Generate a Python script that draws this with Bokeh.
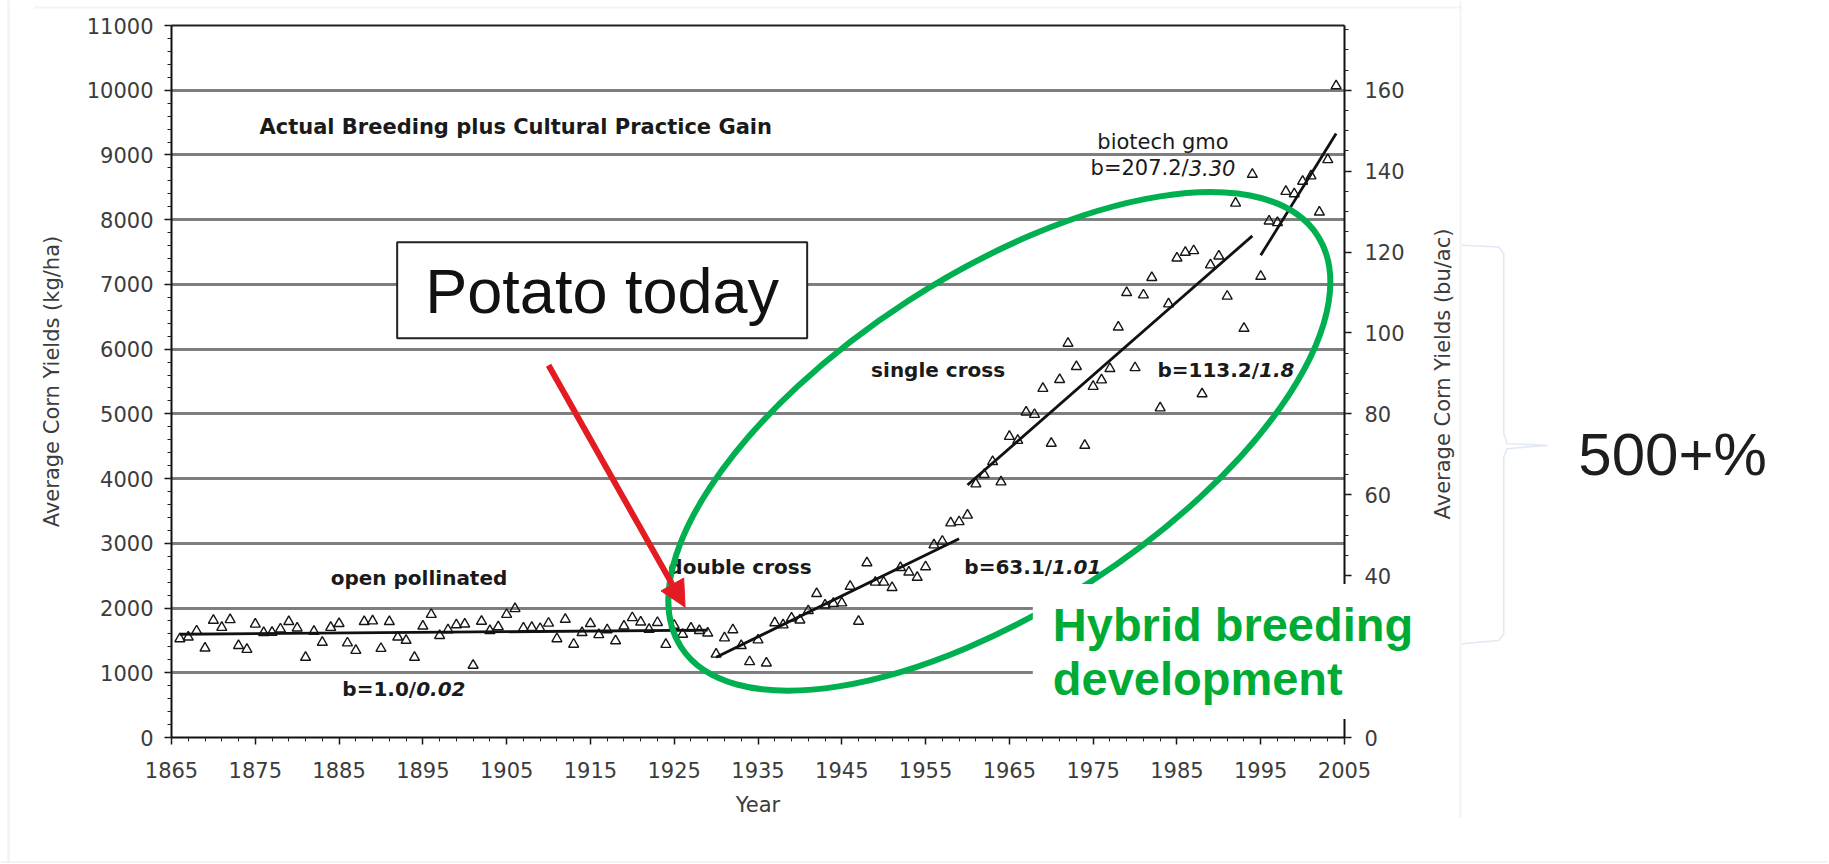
import math
from bokeh.plotting import figure
from bokeh.models import (Range1d, LinearAxis, FixedTicker, Label, Arrow, NormalHead,
                          PolyAnnotation, Grid)
from bokeh.core.properties import value
from bokeh.embed import file_html
from bokeh.resources import INLINE

# ---------------- data (kg/ha) ----------------
op_years = list(range(1866, 1930))
op_yield = [1525, 1550, 1645, 1380, 1810, 1700, 1820, 1420, 1360, 1750,
            1620, 1625, 1676, 1790, 1690, 1237, 1640, 1470, 1700, 1760,
            1460, 1345, 1790, 1800, 1375, 1790, 1550, 1500, 1237, 1720,
            1900, 1575, 1663, 1740, 1751, 1115, 1795, 1650, 1710, 1900,
            1990, 1690, 1700, 1682, 1765, 1525, 1825, 1440, 1620, 1760,
            1588, 1663, 1494, 1720, 1850, 1783, 1670, 1776, 1437, 1732,
            1594, 1689, 1651, 1613]
dc_years = list(range(1930, 1960))
dc_yield = [1287, 1538, 1663, 1419, 1170, 1506, 1150, 1770, 1739, 1845,
            1814, 1958, 2222, 2046, 2071, 2078, 2335, 1795, 2699, 2398,
            2398, 2316, 2624, 2555, 2473, 2636, 2975, 3032, 3314, 3333]
sc_years = list(range(1960, 1995))
sc_yield = [3434, 3917, 4061, 4262, 3948, 4651, 4589, 5028, 4990, 5392,
            4545, 5530, 6089, 5731, 4513, 5423, 5524, 5699, 6340, 6873,
            5712, 6836, 7106, 5091, 6698, 7407, 7495, 7520, 5310, 7300,
            7438, 6817, 8254, 6321, 8700]
bt_years = list(range(1995, 2005))
bt_yield = [7124, 7978, 7953, 8436, 8399, 8593, 8675, 8116, 8926, 10068]

# fitted trend segments
trend_years = [[1866, 1929], [1930, 1959], [1960, 1994], [1995, 2004]]
trend_vals = [[1595, 1658], [1240, 3070], [3900, 7750], [7450, 9330]]

x_ticks = list(range(1865, 2006, 10))
y_ticks = list(range(0, 11001, 1000))
grid_ticks = list(range(1000, 11000, 1000))
bu_ticks = list(range(0, 161, 20))
X0, X1 = 1865, 2005          # chart extent (years)
Y1 = 11000                   # chart top (kg/ha)
BU_PER = 62.5                # kg/ha per bu/ac on the right scale

# ---------------- figure (frame = whole canvas, axes at fixed locations) ----------------
W, H = 1828, 863
p = figure(width=W, height=H, output_backend="svg", toolbar_location=None,
           x_range=Range1d(1844.591, 2062.764), y_range=Range1d(-1946.6, 11386.3),
           min_border=0, min_border_left=0, min_border_right=0,
           min_border_top=0, min_border_bottom=0)
p.background_fill_color = "white"
p.border_fill_color = "white"
p.outline_line_color = None

TICK_FONT = "DejaVu Sans"
TXT = "#3c3c3c"

ax = p.xaxis[0]
ax.ticker = FixedTicker(ticks=x_ticks, minor_ticks=list(range(1865, 2006, 2)))
ax.axis_label = "Year"
ax.fixed_location = 0
ax.bounds = (X0, X1)
ay = p.yaxis[0]
ay.ticker = FixedTicker(ticks=y_ticks, minor_ticks=list(range(0, 11001, 200)))
ay.axis_label = "Average Corn Yields (kg/ha)"
ay.fixed_location = X0
ay.bounds = (0, Y1)

p.extra_y_ranges = {"bu": Range1d(-1946.6 / BU_PER, 11386.3 / BU_PER)}
ar = LinearAxis(y_range_name="bu", fixed_location=X1, bounds=(0, Y1 / BU_PER),
                ticker=FixedTicker(ticks=bu_ticks, minor_ticks=list(range(0, 177, 5))))
p.add_layout(ar, "right")

for a in (ax, ay, ar):
    a.axis_line_color = "#111111"
    a.axis_line_width = 2
    a.major_tick_line_color = "#111111"
    a.major_tick_line_width = 1.5
    a.minor_tick_line_color = "#222222"
    a.minor_tick_line_width = 1
    a.major_tick_in = 0
    a.minor_tick_in = 0
    a.major_tick_out = 7
    a.minor_tick_out = 4
    a.major_label_text_font = TICK_FONT
    a.major_label_text_font_size = "21px"
    a.major_label_text_color = TXT
    a.axis_label_text_font = TICK_FONT
    a.axis_label_text_font_size = "21px"
    a.axis_label_text_font_style = "normal"
    a.axis_label_text_color = TXT

ax.major_label_standoff = 17
ax.axis_label_standoff = 12
ay.major_label_standoff = 11
ay.axis_label_standoff = 20
ar.major_label_standoff = 13

# horizontal grid lines limited to the chart box
p.xgrid.visible = False
has_cb = "cross_bounds" in Grid.properties()
if has_cb:
    p.ygrid.ticker = FixedTicker(ticks=grid_ticks)
    p.ygrid.cross_bounds = (X0, X1)
    p.ygrid.grid_line_color = "#7e7e7e"
    p.ygrid.grid_line_width = 3
    p.add_layout(Grid(dimension=1, ticker=FixedTicker(ticks=[Y1]), cross_bounds=(X0, X1),
                      grid_line_color="#222222", grid_line_width=2))
else:
    p.ygrid.visible = False
    p.segment(x0=[X0] * len(grid_ticks), x1=[X1] * len(grid_ticks), y0=grid_ticks,
              y1=grid_ticks, line_color="#7e7e7e", line_width=3)
    p.segment(x0=[X0], x1=[X1], y0=[Y1], y1=[Y1], line_color="#222222", line_width=2)

# ---------------- data marks ----------------
for xs, ys in ((op_years, op_yield), (dc_years, dc_yield), (sc_years, sc_yield), (bt_years, bt_yield)):
    p.scatter(xs, ys, marker="triangle", size=10, fill_color=None,
              line_color="#151515", line_width=1.4)
for xs, ys in zip(trend_years, trend_vals):
    p.line(xs, ys, line_color="#111111", line_width=2.8)

# ---------------- in-plot texts ----------------
def note(x, y, txt, size=20, style="bold", align="left", color="#1a1a1a", font="DejaVu Sans"):
    p.text(x=[x], y=[y], text=[txt], text_font=value(font), text_font_size=f"{size}px",
           text_font_style=style, text_align=align, text_baseline="middle", text_color=color)

note(1875.5, 9428, "Actual Breeding plus Cultural Practice Gain", size=21)
note(1884.0, 2457, "open pollinated")
note(1894.2, 757, "b=1.0/", align="right")
note(1894.2, 757, "0.02", style="bold italic")
note(1924.3, 2627, "double cross")
note(1970.1, 2627, "b=63.1/", align="right")
note(1970.1, 2627, "1.01", style="bold italic")
note(1948.5, 5672, "single cross")
note(1994.8, 5672, "b=113.2/", align="right")
note(1994.8, 5672, "1.8", style="bold italic")
note(1975.5, 9196, "biotech gmo", size=21, style="normal")
note(1986.4, 8794, "b=207.2/", size=21, style="normal", align="right")
note(1986.4, 8794, "3.30", size=21, style="italic")

# right axis title (reads bottom-to-top as in the original)
p.add_layout(Label(x=2016.8, y=5616, text="Average Corn Yields (bu/ac)", angle=math.pi / 2,
                   text_font=TICK_FONT, text_font_size="21px", text_color=TXT,
                   text_align="center", text_baseline="middle"))

# Potato box
p.rect(x=[1916.4], y=[6909], width=[410], height=[96], width_units="screen",
       height_units="screen", fill_color="white", line_color="#222222", line_width=2)
note(1916.4, 6893, "Potato today", size=63, style="normal", align="center",
     color="#111111", font="Liberation Sans")

# green ellipse
p.ellipse(x=[1963.8], y=[4575], width=[758], height=[335], width_units="screen",
          height_units="screen", angle=0.574, fill_color=None,
          line_color="#00b050", line_width=6)

RED = "#e31b23"
p.add_layout(Arrow(end=NormalHead(size=26, fill_color=RED, line_color=RED, line_width=1),
                   x_start=1910.0, y_start=5750, x_end=1926.3, y_end=2014,
                   line_color=RED, line_width=6))

p.add_layout(Label(x=1967.8, y=1329, text="Hybrid breeding\ndevelopment",
                   text_font="Liberation Sans", text_font_style="bold",
                   text_font_size="47px", text_color="#00ab33", text_align="left",
                   text_baseline="middle", text_line_height=1.02,
                   background_fill_color="white", padding=(20, 14)))

# bracket and 500+%
bx = [2019.0, 2023.4, 2024.0, 2024.0, 2024.4, 2029.2, 2024.4, 2024.0, 2024.0, 2023.4, 2019.0]
by = [7604, 7578, 7476, 4694, 4539, 4513, 4462, 4332, 1603, 1499, 1448]
p.add_layout(PolyAnnotation(xs=bx + bx[::-1], ys=by + by[::-1], fill_alpha=0,
                            line_color="#9fb6dc", line_width=1.6))
p.add_layout(Label(x=2032.9, y=4370, text="500+%", text_font="Liberation Sans",
                   text_font_size="60px", text_color="#1e1e1e", text_baseline="middle"))

# slide frame lines
for fx, fy, lw in (([1845.55, 1845.55], [11386, -1931], 2.5),
                   ([1848.65, 2018.85], [11278, 11278], 2),
                   ([2018.85, 2018.85], [11386, -1236], 2),
                   ([1844.6, 2062.76], [-1931, -1931], 3)):
    p.add_layout(PolyAnnotation(xs=fx + fx[::-1], ys=fy + fy[::-1], fill_alpha=0,
                                line_color="#d6d6d6", line_width=lw))

open("out.html", "w").write(file_html(p, INLINE))
